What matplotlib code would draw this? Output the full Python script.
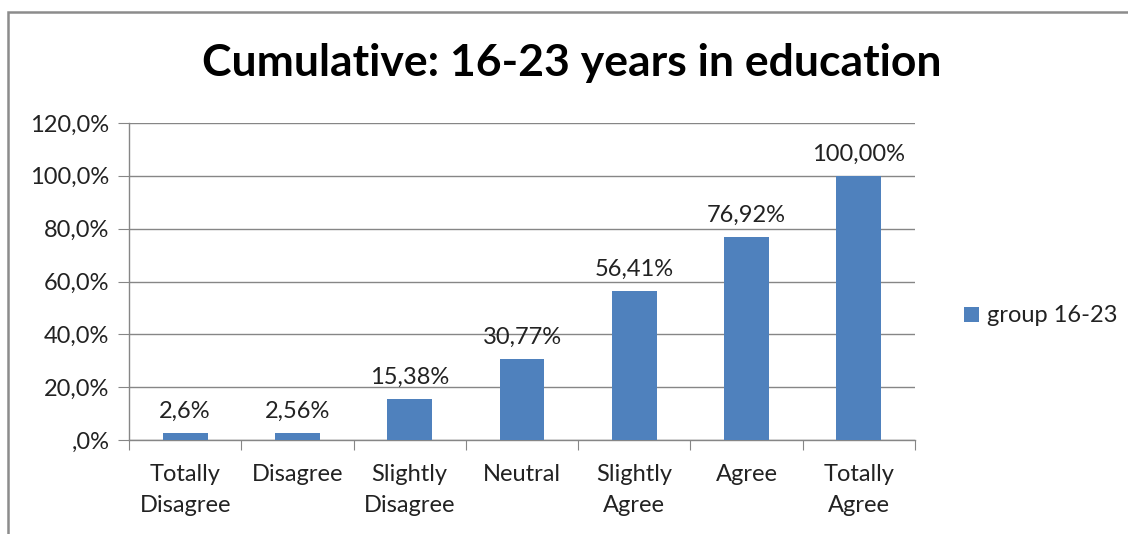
import matplotlib
matplotlib.use("Agg")
import matplotlib.pyplot as plt
from matplotlib.patches import Rectangle
from matplotlib.ticker import FuncFormatter

# data
categories = ["Totally\nDisagree", "Disagree", "Slightly\nDisagree", "Neutral",
              "Slightly\nAgree", "Agree", "Totally\nAgree"]
values = [2.6, 2.56, 15.38, 30.77, 56.41, 76.92, 100.0]
value_labels = ["2,6%", "2,56%", "15,38%", "30,77%", "56,41%", "76,92%", "100,00%"]
y_ticks = [0, 20, 40, 60, 80, 100, 120]
series_name = "group 16-23"

BAR_COLOR = "#4F81BD"
GRID_COLOR = "#868686"
TEXT_COLOR = "#222222"
FS = 17

plt.rcParams["font.family"] = ["Lato", "DejaVu Sans"]

W, H = 1128, 534
fig = plt.figure(figsize=(W / 100, H / 100), dpi=100)

# outer chart frame (open at right and bottom, as cropped in the reference)
fig.add_artist(Rectangle((7.5 / W, -0.1), 1.2, 1 - 11.5 / H + 0.1, transform=fig.transFigure,
                         fill=False, edgecolor="#8C8C8C", linewidth=1.8))

left, right = 129 / W, 915 / W
bottom, top = 1 - 440 / H, 1 - 123 / H
ax = fig.add_axes([left, bottom, right - left, top - bottom])

x = range(len(categories))
ax.bar(x, values, width=0.4, color=BAR_COLOR, label=series_name, zorder=3)
ax.set_xlim(-0.5, len(categories) - 0.5)
ax.set_ylim(0, 120)
ax.set_yticks(y_ticks)

def pct(v, _pos):
    s = f"{v:.1f}".replace(".", ",")
    if s.startswith("0,"):
        s = s[1:]
    return s + "%"

ax.yaxis.set_major_formatter(FuncFormatter(pct))
ax.yaxis.grid(True, color=GRID_COLOR, linewidth=1.0, zorder=0)

ax.set_xticks([i - 0.5 for i in range(len(categories) + 1)], minor=False)
ax.set_xticklabels([])
ax.set_xticks(list(x), minor=True)
ax.set_xticklabels(categories, minor=True, fontsize=FS, color=TEXT_COLOR, linespacing=1.6)
ax.tick_params(axis="x", which="major", length=7, color=GRID_COLOR, direction="out")
ax.tick_params(axis="x", which="minor", length=0, pad=17)
ax.tick_params(axis="y", length=8, color=GRID_COLOR, labelsize=FS, labelcolor=TEXT_COLOR, pad=6)

for side in ("top", "right"):
    ax.spines[side].set_visible(False)
for side in ("left", "bottom"):
    ax.spines[side].set_color(GRID_COLOR)
ax.spines["left"].set_linewidth(1.0)
ax.spines["bottom"].set_linewidth(1.0)

for xi, v, lab in zip(x, values, value_labels):
    ax.annotate(lab, (xi, v), xytext=(0, 8), textcoords="offset points",
                ha="center", va="bottom", fontsize=FS, color=TEXT_COLOR)

fig.text(572 / W, 1 - 63 / H, "Cumulative: 16-23 years in education", ha="center", va="center",
         fontsize=32, fontweight="bold", color="black")

leg = fig.legend(loc="center left", bbox_to_anchor=(955 / W, 1 - 316 / H), frameon=False,
                 fontsize=FS, handlelength=0.6, handleheight=0.6, handletextpad=0.35,
                 borderaxespad=0, labelcolor=TEXT_COLOR)

fig.savefig("out.png", dpi=100)
